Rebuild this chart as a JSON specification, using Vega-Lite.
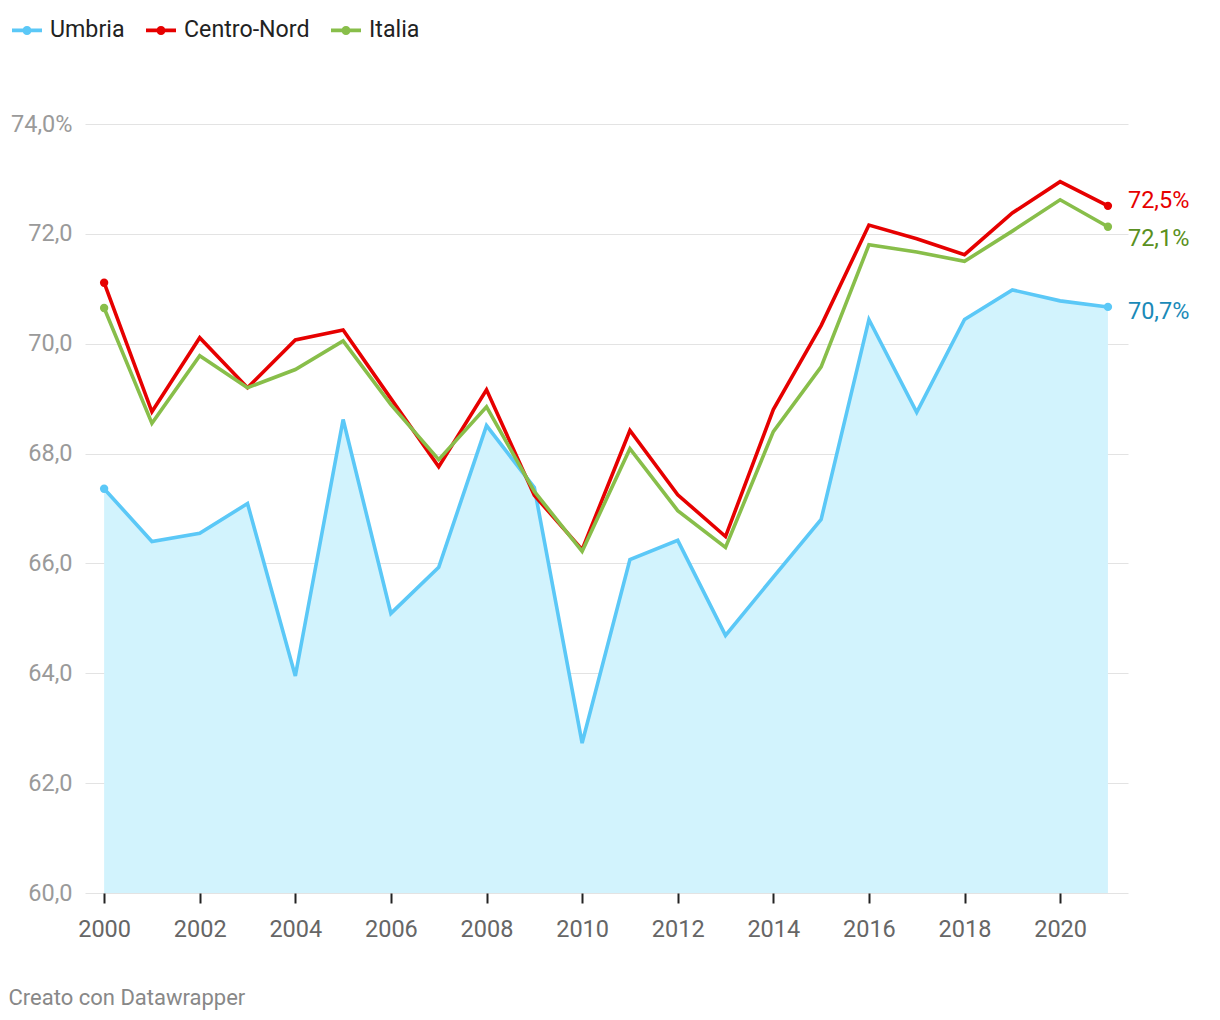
{
  "$schema": "https://vega.github.io/schema/vega-lite/v6.json",
  "width": 1043,
  "height": 769,
  "autosize": {"type": "none"},
  "padding": {"left": 85, "top": 124, "right": 92, "bottom": 127},
  "background": "#ffffff",
  "config": {
    "font": "Roboto",
    "view": {"stroke": null},
    "axis": {"labelFont": "Roboto", "titleFont": "Roboto"},
    "legend": {"labelFont": "Roboto"},
    "title": {"font": "Roboto"}
  },
  "title": {
    "text": "Creato con Datawrapper",
    "orient": "bottom",
    "anchor": "start",
    "frame": "bounds",
    "fontSize": 22,
    "fontWeight": "normal",
    "color": "#888888",
    "offset": 47,
    "dx": -2
  },
  "data": {
    "values": [
      {"year": 2000, "serie": "Umbria", "value": 67.36},
      {"year": 2001, "serie": "Umbria", "value": 66.40},
      {"year": 2002, "serie": "Umbria", "value": 66.55},
      {"year": 2003, "serie": "Umbria", "value": 67.09},
      {"year": 2004, "serie": "Umbria", "value": 63.95},
      {"year": 2005, "serie": "Umbria", "value": 68.62},
      {"year": 2006, "serie": "Umbria", "value": 65.09},
      {"year": 2007, "serie": "Umbria", "value": 65.93},
      {"year": 2008, "serie": "Umbria", "value": 68.51},
      {"year": 2009, "serie": "Umbria", "value": 67.38},
      {"year": 2010, "serie": "Umbria", "value": 62.73},
      {"year": 2011, "serie": "Umbria", "value": 66.07},
      {"year": 2012, "serie": "Umbria", "value": 66.42},
      {"year": 2013, "serie": "Umbria", "value": 64.69},
      {"year": 2014, "serie": "Umbria", "value": 65.75},
      {"year": 2015, "serie": "Umbria", "value": 66.80},
      {"year": 2016, "serie": "Umbria", "value": 70.44},
      {"year": 2017, "serie": "Umbria", "value": 68.75},
      {"year": 2018, "serie": "Umbria", "value": 70.44},
      {"year": 2019, "serie": "Umbria", "value": 70.98},
      {"year": 2020, "serie": "Umbria", "value": 70.78},
      {"year": 2021, "serie": "Umbria", "value": 70.67},
      {"year": 2000, "serie": "Centro-Nord", "value": 71.11},
      {"year": 2001, "serie": "Centro-Nord", "value": 68.76},
      {"year": 2002, "serie": "Centro-Nord", "value": 70.11},
      {"year": 2003, "serie": "Centro-Nord", "value": 69.20},
      {"year": 2004, "serie": "Centro-Nord", "value": 70.07},
      {"year": 2005, "serie": "Centro-Nord", "value": 70.25},
      {"year": 2006, "serie": "Centro-Nord", "value": 69.00},
      {"year": 2007, "serie": "Centro-Nord", "value": 67.76},
      {"year": 2008, "serie": "Centro-Nord", "value": 69.16},
      {"year": 2009, "serie": "Centro-Nord", "value": 67.24},
      {"year": 2010, "serie": "Centro-Nord", "value": 66.25},
      {"year": 2011, "serie": "Centro-Nord", "value": 68.42},
      {"year": 2012, "serie": "Centro-Nord", "value": 67.25},
      {"year": 2013, "serie": "Centro-Nord", "value": 66.49},
      {"year": 2014, "serie": "Centro-Nord", "value": 68.80},
      {"year": 2015, "serie": "Centro-Nord", "value": 70.33},
      {"year": 2016, "serie": "Centro-Nord", "value": 72.16},
      {"year": 2017, "serie": "Centro-Nord", "value": 71.91},
      {"year": 2018, "serie": "Centro-Nord", "value": 71.62},
      {"year": 2019, "serie": "Centro-Nord", "value": 72.38},
      {"year": 2020, "serie": "Centro-Nord", "value": 72.95},
      {"year": 2021, "serie": "Centro-Nord", "value": 72.51},
      {"year": 2000, "serie": "Italia", "value": 70.65},
      {"year": 2001, "serie": "Italia", "value": 68.55},
      {"year": 2002, "serie": "Italia", "value": 69.78},
      {"year": 2003, "serie": "Italia", "value": 69.20},
      {"year": 2004, "serie": "Italia", "value": 69.53},
      {"year": 2005, "serie": "Italia", "value": 70.05},
      {"year": 2006, "serie": "Italia", "value": 68.89},
      {"year": 2007, "serie": "Italia", "value": 67.89},
      {"year": 2008, "serie": "Italia", "value": 68.85},
      {"year": 2009, "serie": "Italia", "value": 67.31},
      {"year": 2010, "serie": "Italia", "value": 66.22},
      {"year": 2011, "serie": "Italia", "value": 68.09},
      {"year": 2012, "serie": "Italia", "value": 66.96},
      {"year": 2013, "serie": "Italia", "value": 66.29},
      {"year": 2014, "serie": "Italia", "value": 68.40},
      {"year": 2015, "serie": "Italia", "value": 69.58},
      {"year": 2016, "serie": "Italia", "value": 71.80},
      {"year": 2017, "serie": "Italia", "value": 71.67},
      {"year": 2018, "serie": "Italia", "value": 71.50},
      {"year": 2019, "serie": "Italia", "value": 72.05},
      {"year": 2020, "serie": "Italia", "value": 72.62},
      {"year": 2021, "serie": "Italia", "value": 72.13}
    ]
  },
  "encoding": {
    "x": {
      "field": "year",
      "type": "quantitative",
      "scale": {"domain": [1999.6, 2021.42], "nice": false, "zero": false},
      "axis": {
        "title": null,
        "values": [2000, 2002, 2004, 2006, 2008, 2010, 2012, 2014, 2016, 2018, 2020],
        "format": "d",
        "grid": false,
        "domain": false,
        "ticks": true,
        "tickColor": "#222222",
        "tickWidth": 2,
        "tickSize": 10,
        "labelFontSize": 23.5,
        "labelColor": "#666666",
        "labelPadding": 14
      }
    },
    "y": {
      "field": "value",
      "type": "quantitative",
      "scale": {"domain": [60, 74], "nice": false, "zero": false},
      "axis": {
        "title": null,
        "values": [60, 62, 64, 66, 68, 70, 72, 74],
        "labelExpr": "datum.value == 74 ? '74,0%' : replace(format(datum.value, '.1f'), '.', ',')",
        "grid": true,
        "gridColor": "#e3e3e3",
        "gridWidth": 1,
        "domain": false,
        "ticks": false,
        "labelFontSize": 23.5,
        "labelColor": "#9a9a9a",
        "labelPadding": 13
      }
    }
  },
  "layer": [
    {
      "transform": [{"filter": "datum.serie == 'Umbria'"}],
      "mark": {"type": "area", "color": "#d2f3fd", "opacity": 1},
      "encoding": {"y2": {"datum": 60}}
    },
    {
      "mark": {"type": "line", "strokeWidth": 3.6, "strokeJoin": "miter"},
      "encoding": {
        "color": {
          "field": "serie",
          "type": "nominal",
          "scale": {"domain": ["Umbria", "Centro-Nord", "Italia"], "range": ["#5bc8f7", "#e60000", "#88be4a"]},
          "legend": {
            "title": null,
            "orient": "none",
            "legendX": -73,
            "legendY": -109,
            "direction": "horizontal",
            "symbolType": "M-1,-0.13L1,-0.13L1,0.13L-1,0.13Z M-0.3,0A0.3,0.3 0 1,1 0.3,0A0.3,0.3 0 1,1 -0.3,0Z",
            "symbolSize": 900,
            "symbolStrokeWidth": 0,
            "labelFontSize": 23.2,
            "labelColor": "#222222",
            "labelOffset": 8,
            "columnPadding": 21,
            "encode": {
              "symbols": {"update": {"fill": {"scale": "color", "field": "value"}, "fillOpacity": {"value": 1}, "strokeWidth": {"value": 0}}}
            }
          }
        },
        "order": {"field": "year"}
      }
    },
    {
      "transform": [{"filter": "datum.year == 2000 || datum.year == 2021"}],
      "mark": {"type": "point", "filled": true, "size": 70, "opacity": 1},
      "encoding": {
        "color": {"field": "serie", "type": "nominal", "legend": null}
      }
    },
    {
      "transform": [
        {"filter": "datum.year == 2021 && datum.serie == 'Centro-Nord'"},
        {"calculate": "replace(format(datum.value, '.1f'), '.', ',') + '%'", "as": "label"}
      ],
      "mark": {"type": "text", "align": "left", "baseline": "middle", "dx": 20, "dy": -5, "fontSize": 23.5, "color": "#e60000"},
      "encoding": {"text": {"field": "label"}}
    },
    {
      "transform": [
        {"filter": "datum.year == 2021 && datum.serie == 'Italia'"},
        {"calculate": "replace(format(datum.value, '.1f'), '.', ',') + '%'", "as": "label"}
      ],
      "mark": {"type": "text", "align": "left", "baseline": "middle", "dx": 20, "dy": 12, "fontSize": 23.5, "color": "#5a9021"},
      "encoding": {"text": {"field": "label"}}
    },
    {
      "transform": [
        {"filter": "datum.year == 2021 && datum.serie == 'Umbria'"},
        {"calculate": "replace(format(datum.value, '.1f'), '.', ',') + '%'", "as": "label"}
      ],
      "mark": {"type": "text", "align": "left", "baseline": "middle", "dx": 20, "dy": 5, "fontSize": 23.5, "color": "#1b8ab8"},
      "encoding": {"text": {"field": "label"}}
    }
  ]
}
